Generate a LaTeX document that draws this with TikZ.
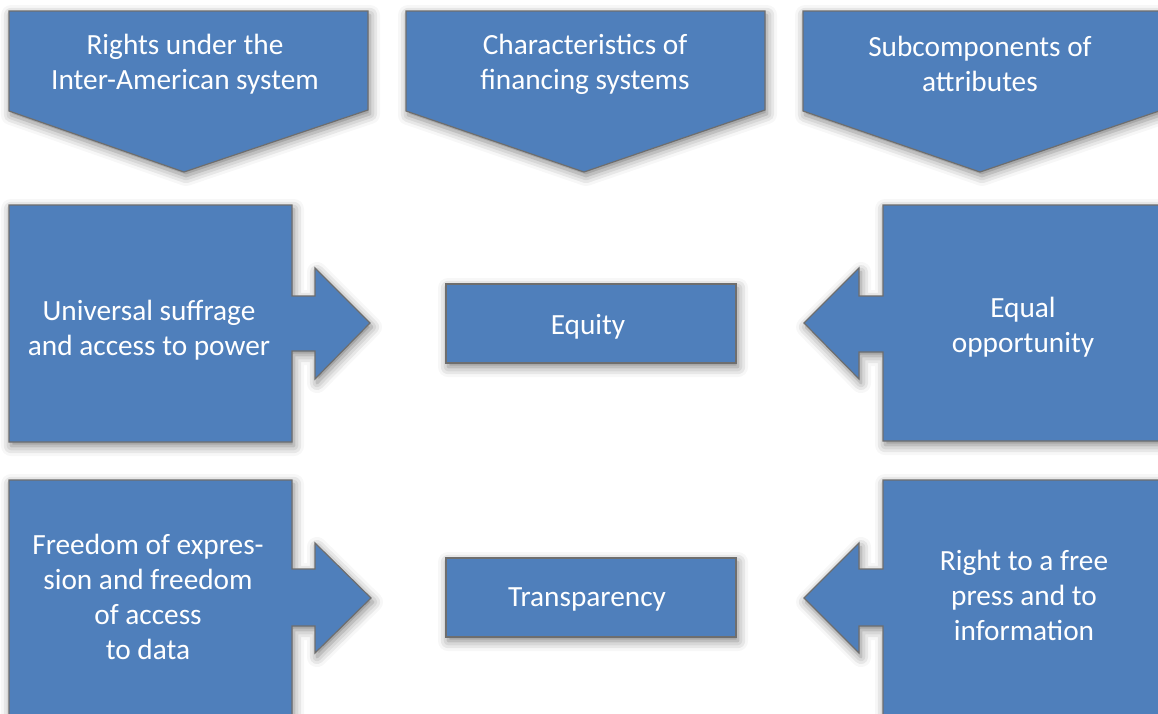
\documentclass[tikz,border=0pt]{standalone}
\usepackage{fontspec}
\setmainfont{Carlito}
\usetikzlibrary{shadows.blur}
\definecolor{boxblue}{HTML}{4F7FBB}
\definecolor{boxline}{HTML}{6E6E6E}
\tikzset{
  shapebox/.style={fill=boxblue, draw=boxline, line width=1.2pt, line join=miter,
    blur shadow={shadow xshift=2pt, shadow yshift=-4pt, shadow blur radius=10pt, shadow opacity=50}},
  lbl/.style={text=white, align=center, font=\fontsize{29.3}{35}\selectfont, inner sep=0pt}
}
\begin{document}
\begin{tikzpicture}[x=1pt, y=-1pt]
\useasboundingbox (0,0) rectangle (1158,713);
\clip (0,0) rectangle (1158,713);
% top callouts
\draw[shapebox] (9,11) -- (368,11) -- (368,110) -- (184,172) -- (9,111) -- cycle;
\draw[shapebox] (406,11) -- (765,11) -- (765,110) -- (584,172) -- (406,111) -- cycle;
\draw[shapebox] (803,11) -- (1162,11) -- (1162,110) -- (980,172) -- (803,111) -- cycle;
\node[lbl] (h1) at (185,64) {Rights under the\\Inter-American system};
\node[lbl] (h2) at (585,64) {Characteristics of\\financing systems};
\node[lbl] (h3) at (980,64) {Subcomponents of\\attributes};
% row 1
\draw[shapebox] (9,205) -- (292,205) -- (292,296) -- (315,296) -- (315,268) -- (370,323)
  -- (315,379) -- (315,351) -- (292,351) -- (292,442) -- (9,442) -- cycle;
\draw[shapebox] (1162,205) -- (883,205) -- (883,296) -- (859,296) -- (859,268) -- (804,323)
  -- (859,379) -- (859,352) -- (883,352) -- (883,441) -- (1162,441) -- cycle;
\draw[shapebox] (446,284) rectangle (736,363);
\node[lbl] (l1) at (149,330) {Universal suffrage\\and access to power};
\node[lbl] (r1) at (1023,327) {Equal\\opportunity};
\node[lbl] (c1) at (588,327) {Equity};
% row 2
\draw[shapebox] (9,480) -- (292,480) -- (292,569) -- (315,569) -- (315,543) -- (371,598)
  -- (315,653) -- (315,626) -- (292,626) -- (292,717) -- (9,717) -- cycle;
\draw[shapebox] (1162,480) -- (883,480) -- (883,569) -- (859,569) -- (859,543) -- (804,598)
  -- (859,653) -- (859,626) -- (883,626) -- (883,717) -- (1162,717) -- cycle;
\draw[shapebox] (446,558) rectangle (736,637);
\node[lbl] (l2) at (148,597) {Freedom of expres-\\sion and freedom\\of access\\to data};
\node[lbl] (r2) at (1024,595) {Right to a free\\press and to\\information};
\node[lbl] (c2) at (587,599) {Transparency};
\end{tikzpicture}
\end{document}
